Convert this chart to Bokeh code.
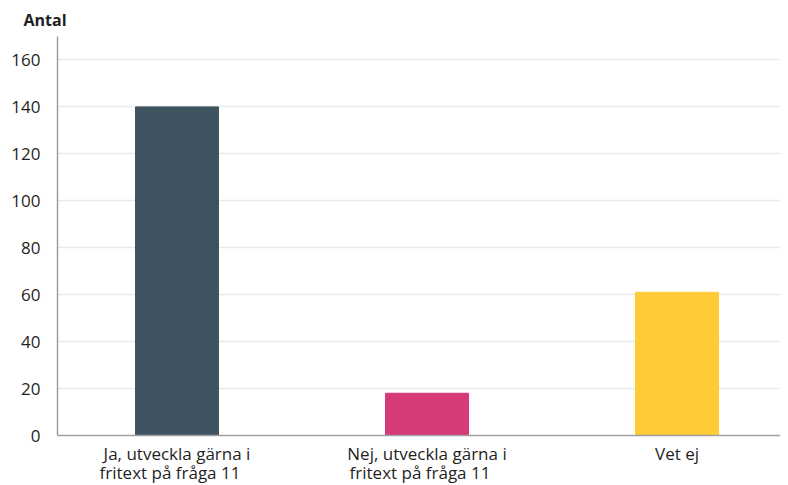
from bokeh.plotting import figure
from bokeh.models import ColumnDataSource, FixedTicker, Range1d, LinearAxis
from bokeh.embed import file_html
from bokeh.resources import INLINE

categories = ["Ja, utveckla gärna i\nfritext på fråga 11",
              "Nej, utveckla gärna i\nfritext på fråga 11",
              "Vet ej"]
values = [140, 18, 61]
colors = ["#3f5361", "#d63a78", "#ffcb37"]
y_ticks = [0, 20, 40, 60, 80, 100, 120, 140, 160]
y_title = "Antal"

FONT = "Open Sans"
TXT = "#1f1f1f"
AX = "#a0a0a0"
X0, X1 = -0.478, 2.414
xs = list(range(len(categories)))
first_lines = {x: c.split("\n")[0] for x, c in zip(xs, categories)}
second_lines = {x: c.split("\n")[1] for x, c in zip(xs, categories) if "\n" in c}

src = ColumnDataSource(dict(x=xs, top=values, color=colors))

p = figure(frame_width=723, frame_height=399, output_backend="svg",
           toolbar_location=None, title=y_title,
           x_range=Range1d(X0, X1), y_range=Range1d(0, 170),
           min_border_left=57, min_border_right=0, min_border_top=36,
           min_border_bottom=4)

p.outline_line_color = None
p.background_fill_color = "white"
p.border_fill_color = "white"

p.title.align = "left"
p.title.offset = -34
p.title.text_font = FONT
p.title.text_font_size = "16px"
p.title.text_font_style = "bold"
p.title.text_color = TXT
p.title.standoff = 11

p.xgrid.grid_line_color = None
p.ygrid.grid_line_color = "#e6eaed"
p.ygrid.grid_line_width = 1.5
p.ygrid.ticker = FixedTicker(ticks=y_ticks)

p.vbar(x="x", top="top", width=0.332, color="color", source=src)

ya = p.yaxis[0]
ya.ticker = FixedTicker(ticks=y_ticks)
ya.major_tick_line_color = None
ya.minor_tick_line_color = None
ya.major_tick_out = 0
ya.minor_tick_out = 0
ya.axis_line_color = AX
ya.axis_line_width = 1.5
ya.major_label_text_font = FONT
ya.major_label_text_font_size = "17px"
ya.major_label_text_color = TXT
ya.major_label_standoff = 17

# first line of each category label (centred on the bar)
xa = p.xaxis[0]
xa.ticker = FixedTicker(ticks=xs)
xa.major_label_overrides = first_lines
xa.major_tick_line_color = None
xa.minor_tick_line_color = None
xa.major_tick_out = 0
xa.minor_tick_out = 0
xa.axis_line_color = AX
xa.axis_line_width = 1.5
xa.major_label_text_font = FONT
xa.major_label_text_font_size = "17px"
xa.major_label_text_color = TXT
xa.major_label_standoff = 6

# second line: starts where the first line starts (slightly shifted range)
shift = 0.028
p.extra_x_ranges = {"l2": Range1d(X0 + shift, X1 + shift)}
xb = LinearAxis(x_range_name="l2", ticker=FixedTicker(ticks=list(second_lines)),
                major_label_overrides=second_lines)
xb.axis_line_color = None
xb.major_tick_line_color = None
xb.minor_tick_line_color = None
xb.major_tick_out = 0
xb.minor_tick_out = 0
xb.major_label_text_font = FONT
xb.major_label_text_font_size = "17px"
xb.major_label_text_color = TXT
xb.major_label_standoff = -7
p.add_layout(xb, "below")

open("out.html", "w").write(file_html(p, INLINE))
